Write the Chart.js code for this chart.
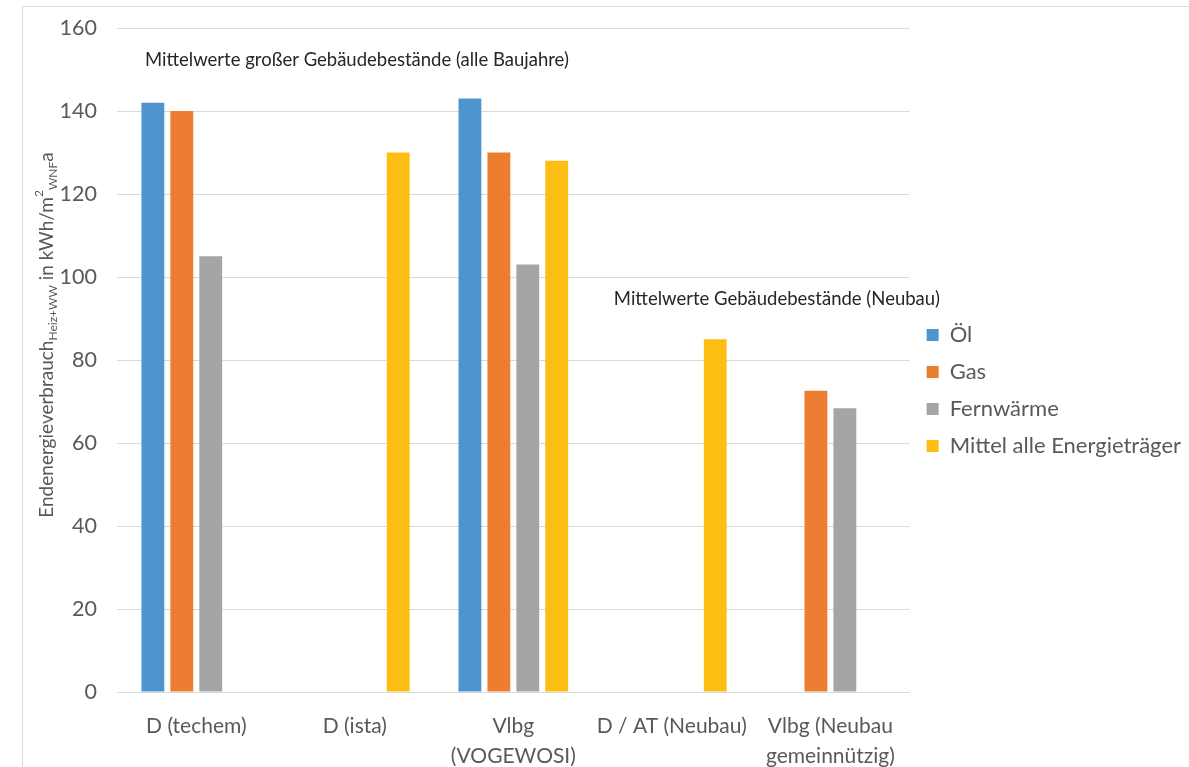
<!DOCTYPE html>
<html>
<head>
<meta charset="utf-8">
<script src="https://cdn.jsdelivr.net/npm/chart.js@4.4.1/dist/chart.umd.min.js"></script>
<style>
html,body{margin:0;padding:0;background:#fff;}
#wrap{width:1189px;height:767px;position:relative;}
</style>
</head>
<body>
<div id="wrap"><canvas id="c" width="1189" height="767"></canvas></div>
<script>
const categories = ["D (techem)", "D (ista)", ["Vlbg", "(VOGEWOSI)"], "D / AT (Neubau)", ["Vlbg (Neubau", "gemeinnützig)"]];
const seriesNames = ["Öl", "Gas", "Fernwärme", "Mittel alle Energieträger"];
const oel = [142, null, 143, null, null];
const gas = [140, null, 130, null, 72.6];
const fernwaerme = [105, null, 103, null, 68.4];
const mittel = [null, 130, 128, 85, null];
const yTicks = [0, 20, 40, 60, 80, 100, 120, 140, 160];
const annotationTexts = ["Mittelwerte großer Gebäudebestände (alle Baujahre)", "Mittelwerte Gebäudebestände (Neubau)"];

const FONT = "Lato, 'Liberation Sans', sans-serif";
const colors = ["#4E95D0", "#ED7D31", "#A5A5A5", "#FDBE14"];

const extras = {
  id: 'extras',
  afterLayout(chart) {
    const lg = chart.legend;
    if (lg) { lg.top -= 7; lg.bottom -= 7; lg.left += 2; lg.right += 2; }
  },
  afterDraw(chart) {
    const ctx = chart.ctx;
    const x = chart.scales.x, y = chart.scales.y;
    ctx.save();
    ctx.strokeStyle = '#d9d9d9';
    ctx.lineWidth = 1;
    ctx.strokeRect(22.5, 6.5, 1200, 800);
    ctx.fillStyle = '#262626';
    ctx.font = "18.5px " + FONT;
    ctx.textBaseline = 'middle';
    ctx.textAlign = 'left';
    ctx.fillText(annotationTexts[0], chart.chartArea.left + 28, y.getPixelForValue(152.3));
    ctx.fillText(annotationTexts[1], x.getPixelForValue(3) - 58, y.getPixelForValue(94.8));
    const parts = [
      {t: "Endenergieverbrauch", s: 19, dy: 0},
      {t: "Heiz+WW", s: 12, dy: 6},
      {t: " in kWh/m", s: 19, dy: 0},
      {t: "2", s: 12, dy: -8},
      {t: "WNF", s: 12, dy: 6},
      {t: "a", s: 19, dy: 0}
    ];
    let total = 0;
    parts.forEach(p => { ctx.font = p.s + "px " + FONT; p.w = ctx.measureText(p.t).width; total += p.w; });
    ctx.translate(47, 335);
    ctx.rotate(-Math.PI / 2);
    ctx.fillStyle = '#595959';
    ctx.textBaseline = 'middle';
    let cx = -total / 2;
    parts.forEach(p => {
      ctx.font = p.s + "px " + FONT;
      ctx.fillText(p.t, cx, p.dy);
      cx += p.w;
    });
    ctx.restore();
  }
};

const mk = (label, data, i) => ({
  label, data, backgroundColor: colors[i], borderWidth: 0,
  categoryPercentage: 0.73, barPercentage: 0.79
});

new Chart(document.getElementById('c'), {
  type: 'bar',
  data: {
    labels: categories,
    datasets: [
      mk(seriesNames[0], oel, 0),
      mk(seriesNames[1], gas, 1),
      mk(seriesNames[2], fernwaerme, 2),
      mk(seriesNames[3], mittel, 3)
    ]
  },
  options: {
    responsive: false,
    animation: false,
    devicePixelRatio: 1,
    layout: { padding: { top: 28, right: 0, bottom: 0, left: 0 } },
    plugins: {
      legend: {
        position: 'right',
        align: 'center',
        labels: {
          boxWidth: 12, boxHeight: 12, padding: 15,
          color: '#595959',
          font: { family: FONT, size: 22 }
        }
      },
      tooltip: { enabled: false },
      title: { display: false }
    },
    scales: {
      x: {
        afterFit(scale) { scale.height = 75; },
        grid: { display: false, drawTicks: false },
        border: { display: true, color: '#d9d9d9' },
        ticks: { color: '#595959', font: { family: FONT, size: 21, lineHeight: 1.43 }, padding: 19, maxRotation: 0, autoSkip: false }
      },
      y: {
        min: 0, max: 160,
        afterFit(scale) { scale.width = 117; },
        afterBuildTicks(scale) { scale.ticks = yTicks.map(v => ({ value: v })); },
        grid: { color: '#d9d9d9', drawTicks: true, tickLength: 20, tickColor: 'rgba(0,0,0,0)' },
        border: { display: false },
        ticks: { color: '#595959', font: { family: FONT, size: 21.5 }, padding: 0 }
      }
    }
  },
  plugins: [extras]
});
</script>
</body>
</html>
